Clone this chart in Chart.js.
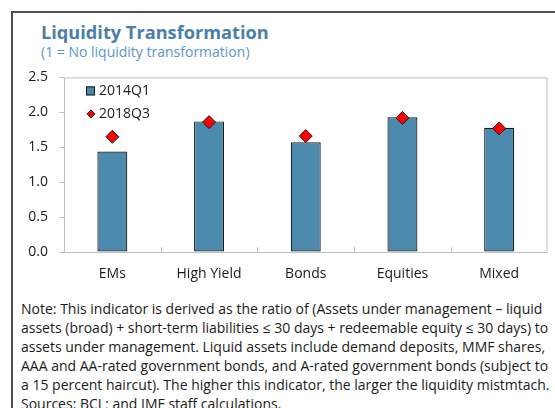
<!DOCTYPE html>
<html>
<head>
<meta charset="utf-8">
<script src="https://cdn.jsdelivr.net/npm/chart.js@4.4.1/dist/chart.umd.min.js"></script>
<style>
  html, body { margin:0; padding:0; background:#fff; width:555px; height:408px; overflow:hidden; }
  #frame { position:absolute; left:11px; top:11px; width:600px; height:450px; border:2px solid #505050; box-sizing:border-box; }
  #title { position:absolute; left:41px; top:20px; font-family:'Open Sans'; font-weight:700; font-size:18.2px; color:#4a7eab; white-space:nowrap; line-height:24px; }
  #subtitle { position:absolute; left:41px; top:43px; font-family:'Open Sans'; font-size:14px; color:#5c95c7; white-space:nowrap; line-height:18px; }
  #wrap { position:absolute; left:0; top:58px; width:555px; height:237px; }
  #note { position:absolute; left:21px; top:299px; font-family:'Open Sans'; font-size:14px; color:#1a1a1a; line-height:19px; white-space:nowrap; }
</style>
</head>
<body>
<div id="frame"></div>
<div id="title">Liquidity Transformation</div>
<div id="subtitle">(1 = No liquidity transformation)</div>
<div id="wrap"><canvas id="c"></canvas></div>
<div id="note"></div>
<script>
const categories = ["EMs", "High Yield", "Bonds", "Equities", "Mixed"];
const values2014Q1 = [1.44, 1.87, 1.57, 1.93, 1.78];
const values2018Q3 = [1.65, 1.86, 1.66, 1.92, 1.77];
const seriesLabels = ["2014Q1", "2018Q3"];
const yTicks = [0, 0.5, 1.0, 1.5, 2.0, 2.5];
const noteLines = [
  "Note: This indicator is derived as the ratio of (Assets under management \u2013 liquid",
  "assets (broad) + short-term liabilities \u2264 30 days + redeemable equity \u2264 30 days) to",
  "assets under management. Liquid assets include demand deposits, MMF shares,",
  "AAA and AA-rated government bonds, and A-rated government bonds (subject to",
  "a 15 percent haircut). The higher this indicator, the larger the liquidity mistmtach.",
  "Sources: BCL; and IMF staff calculations."
];

document.getElementById('note').innerHTML = noteLines.map(l => '<div>' + l + '</div>').join('');

const barColor = '#4b8aad';
const boxColor = '#c0c0c0';

Chart.defaults.font.family = "'Open Sans'";
Chart.defaults.font.size = 13;
Chart.defaults.color = '#1a1a1a';

const boxPlugin = {
  id: 'box',
  beforeDatasetsDraw(chart) {
    const {ctx, chartArea: a} = chart;
    ctx.save();
    ctx.strokeStyle = boxColor;
    ctx.lineWidth = 1;
    ctx.strokeRect(a.left + 0.5, a.top + 0.5, a.right - a.left - 1, a.bottom - a.top);
    const xs = chart.scales.x;
    const n = categories.length;
    const w = (a.right - a.left) / n;
    for (let i = 1; i < n; i++) {
      const x = Math.round(xs.getPixelForValue(i) - w / 2) + 0.5;
      ctx.beginPath();
      ctx.moveTo(x, a.bottom);
      ctx.lineTo(x, a.bottom - 5);
      ctx.stroke();
    }
    ctx.restore();
  }
};

const legendPlugin = {
  id: 'insideLegend',
  afterDraw(chart) {
    const {ctx, chartArea: a} = chart;
    ctx.save();
    ctx.font = "14px 'Open Sans'";
    ctx.textBaseline = 'middle';
    const y1 = a.top + 13.5, y2 = a.top + 36.5;
    ctx.fillStyle = barColor;
    ctx.fillRect(a.left + 22, y1 - 4.5, 9, 9);
    ctx.strokeStyle = '#1a1a1a';
    ctx.lineWidth = 1;
    ctx.strokeRect(a.left + 22.5, y1 - 4, 8, 8);
    ctx.fillStyle = '#1a1a1a';
    ctx.fillText(chart.data.datasets[0].label, a.left + 35, y1 + 0.5);
    const cx = a.left + 27;
    ctx.beginPath();
    ctx.moveTo(cx, y2 - 4);
    ctx.lineTo(cx + 4, y2);
    ctx.lineTo(cx, y2 + 4);
    ctx.lineTo(cx - 4, y2);
    ctx.closePath();
    ctx.fillStyle = '#ff0000';
    ctx.fill();
    ctx.strokeStyle = '#1a1a1a';
    ctx.stroke();
    ctx.fillStyle = '#1a1a1a';
    ctx.fillText(chart.data.datasets[1].label, a.left + 35, y2 + 0.5);
    ctx.restore();
  }
};

new Chart(document.getElementById('c'), {
  type: 'bar',
  data: {
    labels: categories,
    datasets: [
      {
        type: 'bar',
        label: seriesLabels[0],
        data: values2014Q1,
        backgroundColor: barColor,
        borderColor: '#1a1a1a',
        borderWidth: 1.2,
        borderSkipped: false,
        barPercentage: 0.31,
        categoryPercentage: 1.0,
        order: 2
      },
      {
        type: 'line',
        label: seriesLabels[1],
        data: values2018Q3,
        showLine: false,
        pointStyle: 'rectRot',
        pointRadius: 6.5,
        pointHoverRadius: 6.5,
        pointBackgroundColor: '#ff0000',
        pointBorderColor: '#1a1a1a',
        pointBorderWidth: 1,
        order: 1
      }
    ]
  },
  options: {
    responsive: true,
    maintainAspectRatio: false,
    animation: false,
    events: [],
    layout: { padding: { top: 5, right: 6, left: 0, bottom: 0 } },
    plugins: { legend: { display: false }, tooltip: { enabled: false } },
    scales: {
      x: {
        offset: true,
        grid: { display: false, drawTicks: false },
        border: { display: false },
        ticks: { padding: 14, color: '#1a1a1a', font: { size: 14 } },
        afterFit(s) { s.height = 43; }
      },
      y: {
        min: 0, max: 2.5,
        afterBuildTicks(s) { s.ticks = yTicks.map(v => ({ value: v })); },
        grid: { drawOnChartArea: false, drawTicks: true, tickLength: 5, color: boxColor },
        border: { display: false },
        ticks: { padding: 11, color: '#1a1a1a', font: { size: 14 }, callback: v => Number(v).toFixed(1) },
        afterFit(s) { s.width = 64; }
      }
    }
  },
  plugins: [boxPlugin, legendPlugin]
});
</script>
</body>
</html>
